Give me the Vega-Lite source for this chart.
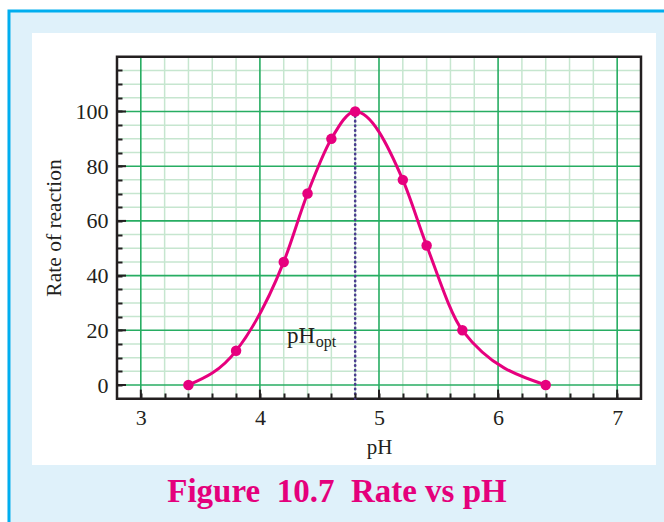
{
  "$schema": "https://vega.github.io/schema/vega-lite/v6.json",
  "autosize": {"type": "none"},
  "width": 624,
  "height": 432,
  "padding": {"left": 32, "top": 33, "right": 8, "bottom": 57},
  "background": "white",
  "config": {"view": {"stroke": null}},
  "resolve": {"axis": {"x": "independent", "y": "independent"}},
  "datasets": {
    "rate": [
      {"pH": 3.4, "rate": 0},
      {"pH": 3.8, "rate": 12.5},
      {"pH": 4.2, "rate": 45},
      {"pH": 4.4, "rate": 70},
      {"pH": 4.6, "rate": 90},
      {"pH": 4.8, "rate": 100},
      {"pH": 5.2, "rate": 75},
      {"pH": 5.4, "rate": 51},
      {"pH": 5.7, "rate": 20},
      {"pH": 6.4, "rate": 0}
    ],
    "vminor": [{"g": 3.2}, {"g": 3.4}, {"g": 3.6}, {"g": 3.8}, {"g": 4.2}, {"g": 4.4}, {"g": 4.6}, {"g": 4.8}, {"g": 5.2}, {"g": 5.4}, {"g": 5.6}, {"g": 5.8}, {"g": 6.2}, {"g": 6.4}, {"g": 6.6}, {"g": 6.8}],
    "hminor": [{"g": 5}, {"g": 10}, {"g": 15}, {"g": 25}, {"g": 30}, {"g": 35}, {"g": 45}, {"g": 50}, {"g": 55}, {"g": 65}, {"g": 70}, {"g": 75}, {"g": 85}, {"g": 90}, {"g": 95}, {"g": 105}, {"g": 110}, {"g": 115}],
    "vmajor": [{"g": 3}, {"g": 4}, {"g": 5}, {"g": 6}, {"g": 7}],
    "hmajor": [{"g": 0}, {"g": 20}, {"g": 40}, {"g": 60}, {"g": 80}, {"g": 100}],
    "one": [{"k": 1}]
  },
  "data": {"name": "one"},
  "layer": [
    {
      "mark": {"type": "rect", "fill": "#dff1fa", "stroke": "#00aeef", "strokeWidth": 3, "clip": false},
      "encoding": {
        "x": {"datum": 1.893, "type": "quantitative", "scale": {"domain": [2.0863, 7.326], "nice": false, "zero": false}, "axis": null},
        "x2": {"datum": 8.5},
        "y": {"datum": 136.74, "type": "quantitative", "scale": {"domain": [-29.25, 128.7], "nice": false, "zero": false}, "axis": null},
        "y2": {"datum": -70}
      }
    },
    {
      "mark": {"type": "rect", "fill": "white", "clip": false},
      "encoding": {
        "x": {"datum": 2.0863, "type": "quantitative", "axis": null},
        "x2": {"datum": 7.326},
        "y": {"datum": 128.7, "type": "quantitative", "axis": null},
        "y2": {"datum": -29.25}
      }
    },
    {
      "data": {"name": "vminor"},
      "mark": {"type": "rule", "color": "#c6e6cf", "strokeWidth": 1.5},
      "encoding": {
        "x": {"field": "g", "type": "quantitative", "axis": null},
        "y": {"datum": -5, "type": "quantitative", "axis": null},
        "y2": {"datum": 120}
      }
    },
    {
      "data": {"name": "hminor"},
      "mark": {"type": "rule", "color": "#c6e6cf", "strokeWidth": 1.5},
      "encoding": {
        "y": {"field": "g", "type": "quantitative", "axis": null},
        "x": {"datum": 2.8, "type": "quantitative", "axis": null},
        "x2": {"datum": 7.2}
      }
    },
    {
      "data": {"name": "vmajor"},
      "mark": {"type": "rule", "color": "#27ad62", "strokeWidth": 1.6},
      "encoding": {
        "x": {"field": "g", "type": "quantitative", "axis": null},
        "y": {"datum": -5, "type": "quantitative", "axis": null},
        "y2": {"datum": 120}
      }
    },
    {
      "data": {"name": "hmajor"},
      "mark": {"type": "rule", "color": "#27ad62", "strokeWidth": 1.6},
      "encoding": {
        "y": {"field": "g", "type": "quantitative", "axis": null},
        "x": {"datum": 2.8, "type": "quantitative", "axis": null},
        "x2": {"datum": 7.2}
      }
    },
    {
      "data": {"name": "vmajor"},
      "mark": {"type": "rule", "color": "#231f20", "strokeWidth": 2},
      "encoding": {
        "x": {"field": "g", "type": "quantitative", "axis": null},
        "y": {"datum": -5, "type": "quantitative", "axis": null},
        "y2": {"datum": -1.7}
      }
    },
    {
      "data": {"name": "hmajor"},
      "mark": {"type": "rule", "color": "#231f20", "strokeWidth": 2},
      "encoding": {
        "y": {"field": "g", "type": "quantitative", "axis": null},
        "x": {"datum": 2.8, "type": "quantitative", "axis": null},
        "x2": {"datum": 2.8756}
      }
    },
    {
      "mark": {"type": "rect", "fill": null, "filled": false, "stroke": "#231f20", "strokeWidth": 2.5},
      "encoding": {
        "x": {"datum": 2.8, "type": "quantitative", "axis": null},
        "x2": {"datum": 7.2},
        "y": {"datum": -5, "type": "quantitative", "axis": null},
        "y2": {"datum": 120}
      }
    },
    {
      "mark": {"type": "rule", "color": "#4a3d8f", "strokeWidth": 2.6, "strokeDash": [0.5, 4.2], "strokeCap": "round"},
      "encoding": {
        "x": {"datum": 4.8, "type": "quantitative", "axis": null},
        "y": {"datum": 100, "type": "quantitative", "axis": null},
        "y2": {"datum": -5}
      }
    },
    {
      "data": {"name": "rate"},
      "mark": {"type": "line", "interpolate": "monotone", "color": "#e6007e", "strokeWidth": 3},
      "encoding": {
        "x": {"field": "pH", "type": "quantitative", "axis": null},
        "y": {"field": "rate", "type": "quantitative", "axis": null}
      }
    },
    {
      "data": {"name": "rate"},
      "mark": {"type": "point", "filled": true, "color": "#e6007e", "size": 110, "opacity": 1},
      "encoding": {
        "x": {
          "field": "pH", "type": "quantitative",
          "axis": {
            "values": [3, 3.2, 3.4, 3.6, 3.8, 4, 4.2, 4.4, 4.6, 4.8, 5, 5.2, 5.4, 5.6, 5.8, 6, 6.2, 6.4, 6.6, 6.8, 7],
            "offset": -67,
            "zindex": 1,
            "domain": false,
            "grid": false,
            "tickColor": "#231f20",
            "tickWidth": 2,
            "tickSize": -5,
            "labelOverlap": false,
            "labelBound": false,
            "labelFlush": false,
            "labelExpr": "datum.value % 1 === 0 ? '' + datum.value : ''",
            "labelFont": "Liberation Serif",
            "labelFontSize": 22,
            "labelColor": "#231f20",
            "labelPadding": 14,
            "title": "pH",
            "titleFont": "Liberation Serif",
            "titleFontSize": 21,
            "titleFontWeight": "normal",
            "titleColor": "#231f20",
            "titlePadding": 8,
            "titleX": 347
          }
        },
        "y": {
          "field": "rate", "type": "quantitative",
          "axis": {
            "values": [0, 5, 10, 15, 20, 25, 30, 35, 40, 45, 50, 55, 60, 65, 70, 75, 80, 85, 90, 95, 100, 105, 110, 115],
            "offset": -85,
            "zindex": 1,
            "domain": false,
            "grid": false,
            "tickColor": "#231f20",
            "tickWidth": 2,
            "tickSize": -5,
            "labelOverlap": false,
            "labelBound": false,
            "labelFlush": false,
            "labelExpr": "datum.value % 20 === 0 ? datum.label : ''",
            "labelFont": "Liberation Serif",
            "labelFontSize": 22,
            "labelColor": "#231f20",
            "labelPadding": 14,
            "title": "Rate of reaction",
            "titleFont": "Liberation Serif",
            "titleFontSize": 21.5,
            "titleFontWeight": "normal",
            "titleColor": "#231f20",
            "titlePadding": 10,
            "titleY": 194.5
          }
        }
      }
    },
    {
      "mark": {"type": "text", "text": "pH", "font": "Liberation Serif", "fontSize": 23, "align": "left", "baseline": "alphabetic", "color": "#231f20"},
      "encoding": {
        "x": {"datum": 4.2275, "type": "quantitative", "axis": null},
        "y": {"datum": 15.5, "type": "quantitative", "axis": null}
      }
    },
    {
      "mark": {"type": "text", "text": "opt", "font": "Liberation Serif", "fontSize": 16, "align": "left", "baseline": "alphabetic", "color": "#231f20"},
      "encoding": {
        "x": {"datum": 4.468, "type": "quantitative", "axis": null},
        "y": {"datum": 14.0, "type": "quantitative", "axis": null}
      }
    },
    {
      "mark": {"type": "text", "text": "Figure\u00a0 10.7\u00a0 Rate vs pH", "font": "Liberation Serif", "fontSize": 33, "fontWeight": "bold", "align": "center", "baseline": "alphabetic", "color": "#e4007c", "clip": false},
      "encoding": {
        "x": {"datum": 4.6474, "type": "quantitative", "axis": null},
        "y": {"datum": -42.67, "type": "quantitative", "axis": null}
      }
    }
  ]
}
